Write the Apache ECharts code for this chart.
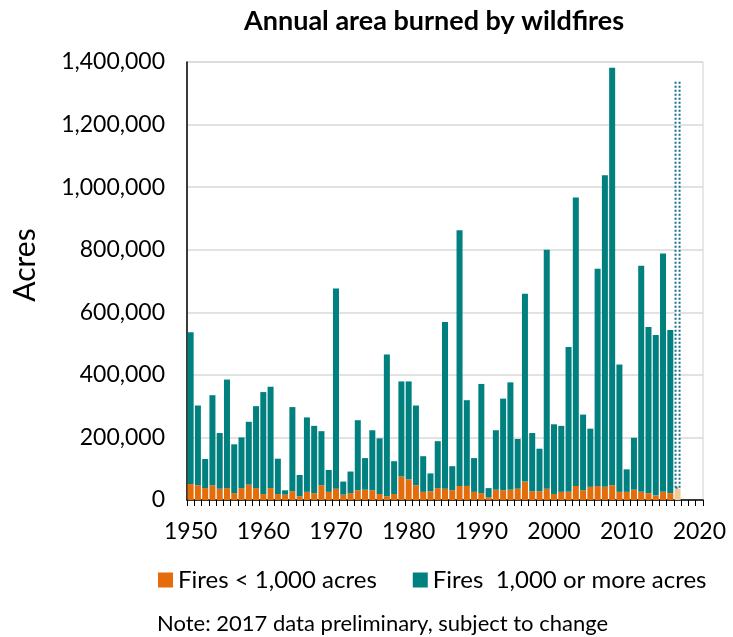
<!DOCTYPE html>
<html>
<head>
<meta charset="utf-8">
<script src="https://cdn.jsdelivr.net/npm/echarts@6/dist/echarts.min.js"></script>
<style>
html,body{margin:0;padding:0;background:#fff;}
#c{width:733px;height:637px;}
</style>
</head>
<body>
<div id="c"></div>
<script>
// Years shown on the category axis (1950..2020)
var firstYear = 1950, lastYear = 2020;
var years = [];
for (var y = firstYear; y <= lastYear; y++) years.push(String(y));

var preliminaryYear = '2017';

// Acres burned by fires < 1,000 acres (1950..2017)
var smallFires = [
  51000, 47000, 38000, 47000, 36000, 38000, 22000, 38000, 49000, 38000,
  19000, 38000, 19000, 17000, 28000, 12000, 26000, 22000, 47000, 26000,
  36000, 17000, 22000, 31000, 33000, 31000, 19000, 12000, 19000, 75000,
  66000, 47000, 26000, 28000, 38000, 36000, 31000, 45000, 45000, 26000,
  22000, 9000, 33000, 31000, 33000, 36000, 59000, 28000, 28000, 36000,
  19000, 26000, 26000, 45000, 31000, 42000, 45000, 42000, 47000, 26000,
  26000, 33000, 26000, 22000, 14000, 26000, 22000, 36000
];

// Acres burned by fires 1,000 acres or more (1950..2017)
var largeFires = [
  485000, 255000, 93000, 288000, 178000, 347000, 156000, 162000, 201000, 262000,
  326000, 324000, 113000, 14000, 269000, 68000, 238000, 215000, 173000, 70000,
  640000, 42000, 69000, 224000, 101000, 192000, 178000, 453000, 105000, 304000,
  313000, 255000, 114000, 57000, 150000, 533000, 77000, 817000, 274000, 108000,
  349000, 29000, 190000, 293000, 343000, 159000, 600000, 186000, 136000, 764000,
  223000, 211000, 463000, 922000, 242000, 186000, 694000, 996000, 1335000, 407000,
  72000, 166000, 723000, 531000, 513000, 762000, 521000, 1301000
];

var yTicks = { min: 0, max: 1400000, interval: 200000 };

var ORANGE = '#E46C0A', TEAL = '#00807F';

function buildSmall() {
  return smallFires.map(function (v, i) {
    if (years[i] === preliminaryYear) {
      return { value: v, itemStyle: { color: '#EFCB95' } };
    }
    return v;
  });
}
function buildLarge() {
  return largeFires.map(function (v, i) {
    if (years[i] === preliminaryYear) {
      return { value: v, itemStyle: { color: '#ffffff', borderColor: '#16708C', borderWidth: 2, borderType: [2, 2] } };
    }
    return v;
  });
}

var chart = echarts.init(document.getElementById('c'), null, { renderer: 'canvas' });
var FONT = 'Lato';
chart.setOption({
  animation: false,
  backgroundColor: '#ffffff',
  title: {
    text: 'Annual area burned by wildfires',
    left: 239, top: 3,
    textStyle: { fontFamily: FONT, fontWeight: 'bold', fontSize: 27, color: '#000' }
  },
  legend: {
    left: 153, top: 563,
    itemWidth: 15, itemHeight: 15, itemGap: 36,
    icon: 'rect',
    textStyle: { fontFamily: FONT, fontSize: 24, color: '#000' },
    data: ['Fires < 1,000 acres', 'Fires  1,000 or more acres']
  },
  graphic: [
    {
      type: 'text', left: 157, top: 613,
      style: { text: 'Note: 2017 data preliminary, subject to change', fontFamily: FONT, fontSize: 22, fill: '#000' }
    },
    {
      type: 'text', x: 25, y: 265, rotation: Math.PI / 2,
      style: { text: 'Acres', fontFamily: FONT, fontSize: 30, fill: '#000', textAlign: 'center', textVerticalAlign: 'middle' }
    }
  ],
  grid: {
    left: 187, right: 30, top: 62, bottom: 137,
    show: true, borderColor: '#d0d0d0', borderWidth: 1
  },
  xAxis: {
    type: 'category',
    data: years,
    boundaryGap: true,
    axisLine: { lineStyle: { color: '#000', width: 1.5 } },
    axisTick: { show: true, interval: 0, length: 6, lineStyle: { color: '#000' } },
    axisLabel: { interval: 9, margin: 20, fontFamily: FONT, fontSize: 23, color: '#000' },
    splitLine: { show: false }
  },
  yAxis: {
    type: 'value',
    min: yTicks.min, max: yTicks.max, interval: yTicks.interval,
    axisLine: { show: true, lineStyle: { color: '#000', width: 1.5 } },
    axisTick: { show: false },
    axisLabel: {
      margin: 22, fontFamily: FONT, fontSize: 23, color: '#000',
      formatter: function (v) { return v.toLocaleString('en-US'); }
    },
    splitLine: { lineStyle: { color: '#d9d9d9', width: 1.5 } }
  },
  series: [
    {
      name: 'Fires < 1,000 acres', type: 'bar', stack: 'a',
      barWidth: 6, itemStyle: { color: ORANGE },
      data: buildSmall()
    },
    {
      name: 'Fires  1,000 or more acres', type: 'bar', stack: 'a',
      barWidth: 6, itemStyle: { color: TEAL },
      data: buildLarge()
    }
  ]
});
</script>
</body>
</html>
